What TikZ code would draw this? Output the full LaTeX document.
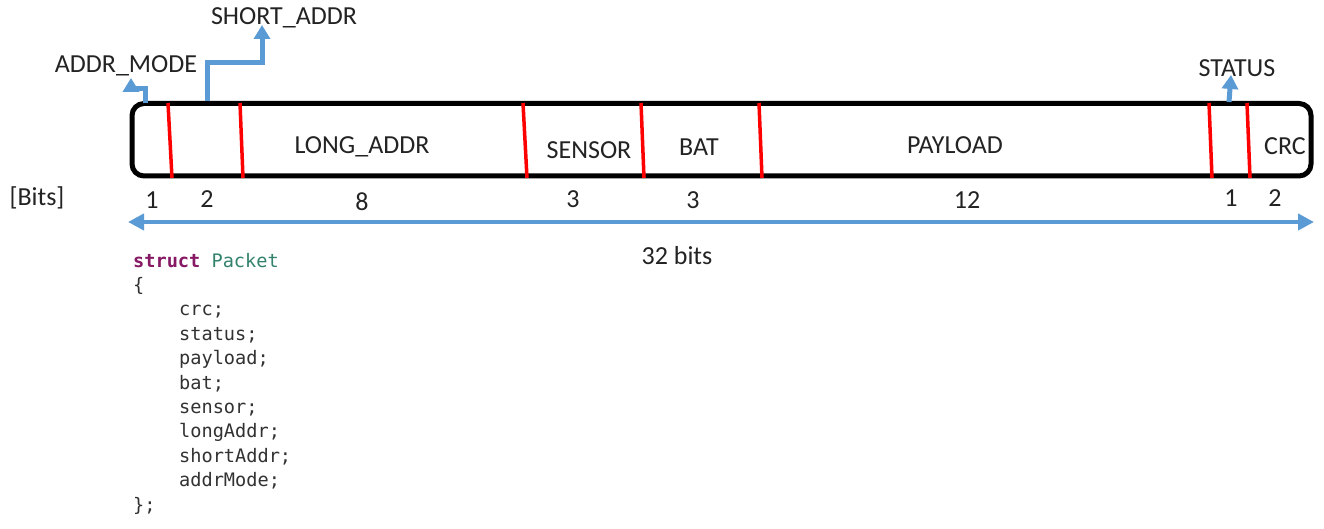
\documentclass[tikz,border=0pt]{standalone}
\usepackage{fontspec}
\setmainfont{Carlito}
\newfontfamily\codefont{DejaVu Sans Mono}
\usetikzlibrary{arrows.meta}
\definecolor{arrblue}{RGB}{91,155,213}
\definecolor{txtgray}{RGB}{35,35,35}
\definecolor{kwpurple}{RGB}{135,25,100}
\definecolor{typegreen}{RGB}{50,130,110}
\definecolor{codegray}{RGB}{50,50,50}
\tikzset{
  lbl/.style={font=\fontsize{26}{30}\selectfont, text=txtgray, inner sep=0pt},
  num/.style={font=\fontsize{26}{30}\selectfont, text=txtgray, inner sep=0pt},
  codeline/.style={font=\codefont\fontsize{18.6}{22}\selectfont, text=codegray, inner sep=0pt, anchor=base west},
  framebox/.style={draw=black, line width=5pt, rounded corners=12pt},
  divider/.style={draw=red, line width=3.5pt},
  bluearrow/.style={draw=arrblue, line width=5pt, -{Triangle[length=14pt,width=16pt]}},
  dblarrow/.style={draw=arrblue, line width=4.5pt, {Triangle[length=16pt,width=16pt]}-{Triangle[length=16pt,width=16pt]}}
}
\begin{document}
\begin{tikzpicture}[x=1pt,y=-1pt]
\useasboundingbox (0,0) rectangle (1324,529);
\fill[white] (0,0) rectangle (1324,529);
% frame
\draw[framebox] (132,103.5) rectangle (1311,176);
% dividers
\draw[divider] (168,103) -- (172,178);
\draw[divider] (240,103) -- (243,178);
\draw[divider] (523,103) -- (527,178);
\draw[divider] (641,103) -- (644,178);
\draw[divider] (759,103) -- (762,178);
\draw[divider] (1209,103) -- (1212,178);
\draw[divider] (1247,103) -- (1250,178);
% field labels
\node[lbl] (longaddr) at (362,147) {LONG\_ADDR};
\node[lbl] (sensor) at (589,150) {SENSOR};
\node[lbl] (bat) at (699,147) {BAT};
\node[lbl] (payload) at (955,145) {PAYLOAD};
\node[lbl] (crc) at (1285,146) {CRC};
% top labels
\node[lbl] (addrmode) at (126,66) {ADDR\_MODE};
\node[lbl] (shortaddr) at (284,18) {SHORT\_ADDR};
\node[lbl] (status) at (1237,68) {STATUS};
% top arrows
\coordinate (amstart) at (145,103);
\coordinate (amtip) at (131,78);
\draw[bluearrow] (amstart) -- (145,89) -- (131,89) -- (amtip);
\coordinate (sastart) at (207,101);
\coordinate (satip) at (262,25);
\draw[bluearrow] (sastart) -- (207,63) -- (262,63) -- (satip);
\coordinate (ststart) at (1229,102);
\coordinate (sttip) at (1231,75);
\draw[bluearrow] (ststart) -- (sttip);
% bit numbers
\node[num] (bits) at (37,198) {[Bits]};
\node[num] (n1) at (152,200) {1};
\node[num] (n2) at (207,199) {2};
\node[num] (n8) at (362,202) {8};
\node[num] (n3a) at (573,199) {3};
\node[num] (n3b) at (693,200) {3};
\node[num] (n12) at (967,200) {12};
\node[num] (n1b) at (1231,198) {1};
\node[num] (n2b) at (1275,198) {2};
% total arrow
\coordinate (tl) at (128,222);
\coordinate (tr) at (1314,222);
\draw[dblarrow] (tl) -- (tr);
\node[num] (total) at (677,256) {32 bits};
% code
\node[codeline] (c0) at (133,267) {\textcolor{kwpurple}{\bfseries struct} \textcolor{typegreen}{Packet}};
\node[codeline] (c1) at (133,291.4) {\{};
\node[codeline] (c2) at (179,315.8) {crc;};
\node[codeline] (c3) at (179,340.2) {status;};
\node[codeline] (c4) at (179,364.6) {payload;};
\node[codeline] (c5) at (179,389) {bat;};
\node[codeline] (c6) at (179,413.4) {sensor;};
\node[codeline] (c7) at (179,437.8) {longAddr;};
\node[codeline] (c8) at (179,462.2) {shortAddr;};
\node[codeline] (c9) at (179,486.6) {addrMode;};
\node[codeline] (c10) at (133,511) {\};};
\end{tikzpicture}
\end{document}
